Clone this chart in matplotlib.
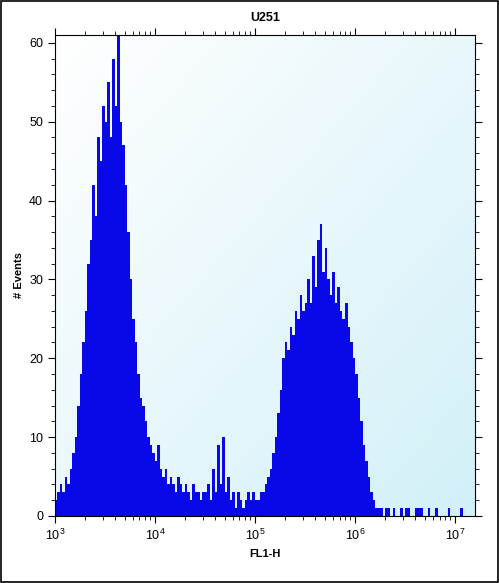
import numpy as np
import matplotlib.pyplot as plt
from matplotlib.colors import LinearSegmentedColormap
from matplotlib.patches import Rectangle
from matplotlib.ticker import LogLocator, NullFormatter, MultipleLocator

plt.rcParams['font.family'] = ['Liberation Sans', 'DejaVu Sans']

# histogram counts, 40 bins per decade starting at 10^3
dec3 = [2, 3, 4, 3, 5, 4, 6, 8, 10, 14, 18, 22, 26, 32, 35, 42, 38, 48, 45, 52,
        50, 55, 48, 58, 52, 61, 50, 47, 42, 36, 30, 25, 22, 18, 15, 14, 12, 10, 9, 8]
dec4 = [7, 9, 6, 5, 6, 4, 5, 4, 3, 5, 4, 3, 4, 3, 2, 4, 3, 3, 2, 3,
        3, 4, 2, 6, 3, 9, 4, 10, 3, 5, 2, 3, 1, 3, 2, 1, 2, 3, 2, 3]
dec5 = [2, 2, 3, 3, 4, 5, 6, 8, 10, 13, 16, 20, 22, 21, 24, 23, 26, 25, 28, 26,
        27, 30, 27, 33, 29, 35, 37, 31, 34, 30, 28, 31, 27, 29, 26, 25, 27, 24, 22, 20]
dec6 = [18, 15, 12, 9, 7, 5, 3, 2, 1, 1, 1, 0, 1, 1, 0, 1, 0, 0, 1, 0,
        1, 1, 0, 0, 1, 1, 1, 0, 0, 1, 0, 0, 1, 0, 0, 0, 0, 1, 0, 0]
dec7 = [0, 0, 1, 0, 0, 0, 0, 0]
counts = np.array(dec3 + dec4 + dec5 + dec6 + dec7, dtype=float)
edges = 10 ** (3 + np.arange(len(counts) + 1) / 40)

fig = plt.figure(figsize=(4.99, 5.83), dpi=100)
fig.patches.append(Rectangle((0.002, 0.002), 0.996, 0.996, transform=fig.transFigure,
                             fill=False, edgecolor='black', linewidth=1.2))
ax = fig.add_axes([0.110, 0.115, 0.842, 0.825])

# light gradient background
g = np.linspace(0, 1, 200)
grad = (g[None, :] + g[:, None]) / 2
ax.imshow(grad, extent=(0, 1, 0, 1), transform=ax.transAxes, aspect='auto',
          cmap=LinearSegmentedColormap.from_list('bg', ['#ffffff', '#d2f0f8']),
          origin='upper', zorder=0)

ax.stairs(counts, edges, fill=True, color='#0808e8', zorder=2)
ax.set_xscale('log')
ax.set_xlim(1e3, 10 ** 7.2)
ax.set_ylim(0, 61)
ax.xaxis.set_major_locator(LogLocator(base=10, numticks=10))
ax.xaxis.set_minor_locator(LogLocator(base=10, subs=np.arange(2, 10), numticks=10))
ax.xaxis.set_minor_formatter(NullFormatter())
ax.yaxis.set_major_locator(MultipleLocator(10))
ax.yaxis.set_minor_locator(MultipleLocator(2))
ax.tick_params(which='both', top=True, right=True, labelsize=9, direction='out')
ax.tick_params(which='major', length=5)
ax.tick_params(which='minor', length=3)
ax.set_xlabel('FL1-H', fontsize=8, fontweight='bold')
ax.set_ylabel('# Events', fontsize=8, fontweight='bold')
ax.set_title('U251', fontsize=9, fontweight='bold', pad=10)

fig.savefig('out.png', dpi=100)
